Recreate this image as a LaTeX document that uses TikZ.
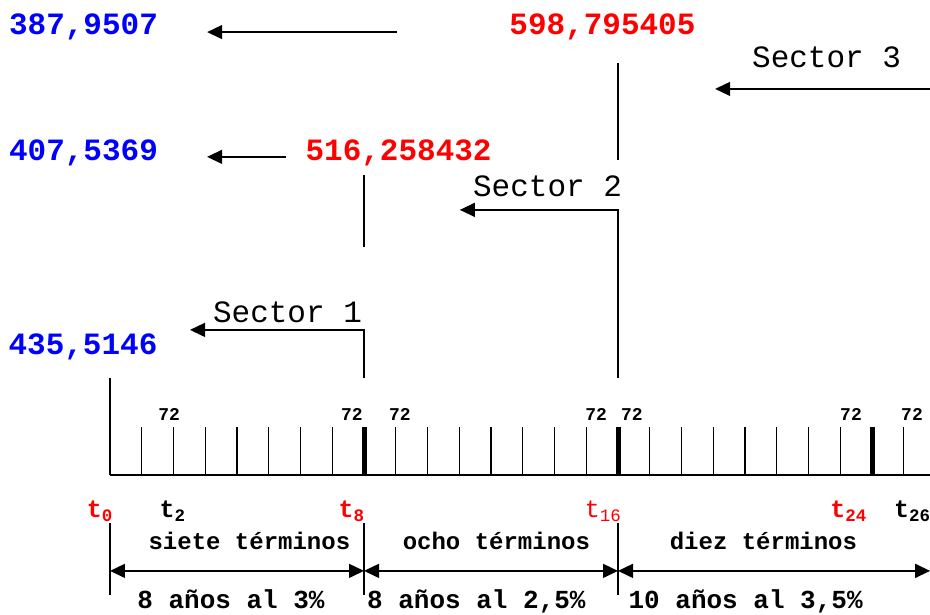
\documentclass[tikz,border=0pt]{standalone}
\usepackage{fontspec}
\setmonofont{Liberation Mono}
\usetikzlibrary{arrows.meta, positioning}

\begin{document}
\begin{tikzpicture}[
    x=31.75pt, y=31.75pt,
    amount/.style={anchor=base, inner sep=0pt, font=\ttfamily\bfseries\fontsize{31}{31}\selectfont},
    sector/.style={anchor=base, inner sep=0pt, font=\ttfamily\fontsize{31}{31}\selectfont},
    rate/.style={anchor=base, inner sep=0pt, font=\ttfamily\bfseries\fontsize{18}{18}\selectfont},
    tname/.style={anchor=base, inner sep=0pt, font=\ttfamily\bfseries\fontsize{25}{25}\selectfont},
    span/.style={anchor=base, inner sep=0pt, font=\ttfamily\bfseries\fontsize{24}{24}\selectfont},
    period/.style={anchor=base, inner sep=0pt, font=\ttfamily\bfseries\fontsize{26}{26}\selectfont},
    link/.style={line width=1.4pt},
    minor/.style={line width=1.4pt},
    major/.style={line width=5pt},
    flow/.style={line width=1.4pt, -{Triangle[length=15pt, width=14pt]}},
    both/.style={line width=1.4pt, {Triangle[length=15pt, width=14pt]}-{Triangle[length=15pt, width=14pt]}}
]
\useasboundingbox (-110pt,-139pt) rectangle (820pt,475pt);

% Amounts
\node[amount, blue] (a3) at (-0.835, 13.86) {387,9507};
\node[amount, blue] (a2) at (-0.835, 9.92) {407,5369};
\node[amount, blue] (a1) at (-0.85, 3.78) {435,5146};
\node[amount, red] (f2) at (15.51, 13.86) {598,795405};
\node[amount, red] (f1) at (9.09, 9.92) {516,258432};

% Sectors
\node[sector] (sec1) at (5.59, 4.79) {Sector 1};
\node[sector] (sec2) at (13.78, 8.76) {Sector 2};
\node[sector] (sec3) at (22.57, 12.82) {Sector 3};

% Time axis
\coordinate (t0) at (0,0);
\coordinate (tend) at (25.83,0);
\draw[link] (t0) -- (tend);
\foreach \i in {1,...,25} \draw[minor] (\i,0) -- (\i,1.5);
\foreach \i in {8,16,24} \draw[major] (\i,0) -- (\i,1.5);
\coordinate (t0top) at (0,3.05);
\draw[link] (t0) -- (t0top);

\foreach \x [count=\k] in {1.86,7.62,9.13,15.31,16.44,23.34,25.26}
    \node[rate] (rate\k) at (\x,1.71) {72};

% Discount arrows
\coordinate (s1) at (8,3.05);
\coordinate (s1tip) at (2.52,4.57);
\draw[flow] (s1) |- (s1tip);
\coordinate (s2) at (16,3.05);
\coordinate (s2tip) at (11.02,8.35);
\draw[flow] (s2) |- (s2tip);
\coordinate (s3) at (25.83,12.16);
\coordinate (s3tip) at (19.06,12.16);
\draw[flow] (s3) -- (s3tip);

\coordinate (u1a) at (8,7.18);
\coordinate (u1b) at (8,9.45);
\draw[link] (u1a) -- (u1b);
\coordinate (u2a) at (16,9.92);
\coordinate (u2b) at (16,12.98);
\draw[link] (u2a) -- (u2b);

\coordinate (m2) at (9.04,13.95);
\coordinate (m2tip) at (3.06,13.95);
\draw[flow] (m2) -- (m2tip);
\coordinate (m1) at (5.54,10.02);
\coordinate (m1tip) at (3.06,10.02);
\draw[flow] (m1) -- (m1tip);

% Time labels
\node[tname, red] (lt0) at (-0.315,-1.354) {t\textsubscript{0}};
\node[tname] (lt2) at (1.97,-1.354) {t\textsubscript{2}};
\node[tname, red] (lt8) at (7.61,-1.354) {t\textsubscript{8}};
\node[tname, red, font=\ttfamily\mdseries\fontsize{25}{25}\selectfont] (lt16) at (15.53,-1.354) {t\textsubscript{16}};
\node[tname, red] (lt24) at (23.26,-1.354) {t\textsubscript{24}};
\node[tname] (lt26) at (25.27,-1.354) {t\textsubscript{26}};

% Periods
\foreach \i in {0,8,16} {
    \coordinate (b\i a) at (\i,-1.51);
    \coordinate (b\i b) at (\i,-3.78);
    \draw[link] (b\i a) -- (b\i b);
}
\coordinate (p0) at (0,-3.02);
\coordinate (p8) at (8,-3.02);
\coordinate (p16) at (16,-3.02);
\coordinate (pend) at (25.83,-3.02);
\draw[both] (p0) -- (p8);
\draw[both] (p8) -- (p16);
\draw[both] (p16) -- (pend);

\node[span] (sp1) at (4.39,-2.36) {siete términos};
\node[span] (sp2) at (12.17,-2.36) {ocho términos};
\node[span] (sp3) at (20.58,-2.36) {diez términos};
\node[period] (pd1) at (3.81,-4.2) {8 años al 3\%};
\node[period] (pd2) at (11.54,-4.2) {8 años al 2,5\%};
\node[period] (pd3) at (20.02,-4.2) {10 años al 3,5\%};

\end{tikzpicture}
\end{document}
